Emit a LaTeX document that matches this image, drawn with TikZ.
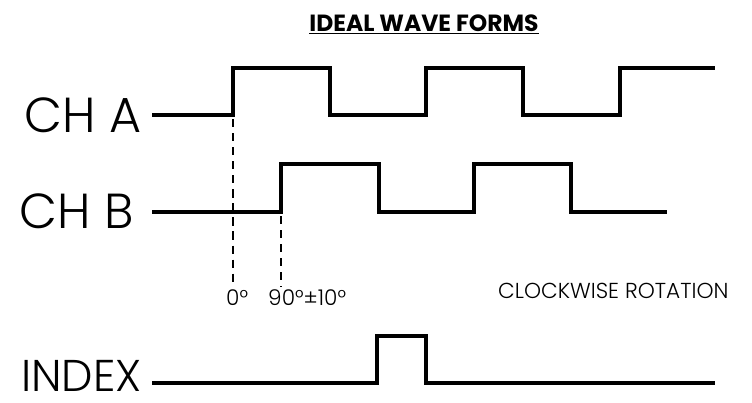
\documentclass[tikz,border=0pt]{standalone}
\usepackage{fontspec}
\setmainfont{Poppins}
\newfontfamily\thinfont{Poppins Light}
\usetikzlibrary{positioning}

\begin{document}
\begin{tikzpicture}[x=0.3mm, y=-0.3mm,
    chlabel/.style={anchor=east, inner sep=0pt, font=\thinfont\fontsize{42}{42}\selectfont},
    small/.style={inner sep=0pt, font=\thinfont\fontsize{18.5}{18.5}\selectfont},
    wave/.style={line width=2.6pt, line join=miter},
    guide/.style={line width=0.9pt, dash pattern=on 7pt off 5pt}
]
    \useasboundingbox (0,0) rectangle (752,402);

    \node[inner sep=0pt, font=\fontsize{20}{20}\bfseries\selectfont] (title) at (424,24) {\underline{IDEAL WAVE FORMS}};

    % channel labels
    \node[chlabel] (cha) at (142,115) {CH A};
    \node[chlabel] (chb) at (134,211) {CH B};
    \node[chlabel, font=\thinfont\fontsize{38}{38}\selectfont] (idx) at (142,376) {INDEX};

    % wave forms
    \draw[wave] (152,115) coordinate (a0) -| (233,68) -| (330,115) -| (426,68) -| (523,115) -| (620,68) -- (715,68);
    \draw[wave] (152,212) coordinate (b0) -| (281,164) -| (379,212) -| (474,164) -| (571,212) -- (667,212);
    \draw[wave] (152,383) coordinate (i0) -| (377,336) -| (426,383) -- (715,383);

    % phase marks
    \coordinate (p0) at (233,119);
    \coordinate (p90) at (281,216);
    \draw[guide] (p0) -- (233,287);
    \draw[guide] (p90) -- (281,287);
    \node[small, anchor=west] (deg0) at (226,298) {0°};
    \node[small, anchor=west] (deg90) at (268,298) {90°±10°};

    \node[small, anchor=west] (rot) at (498,291) {CLOCKWISE ROTATION};
\end{tikzpicture}
\end{document}
